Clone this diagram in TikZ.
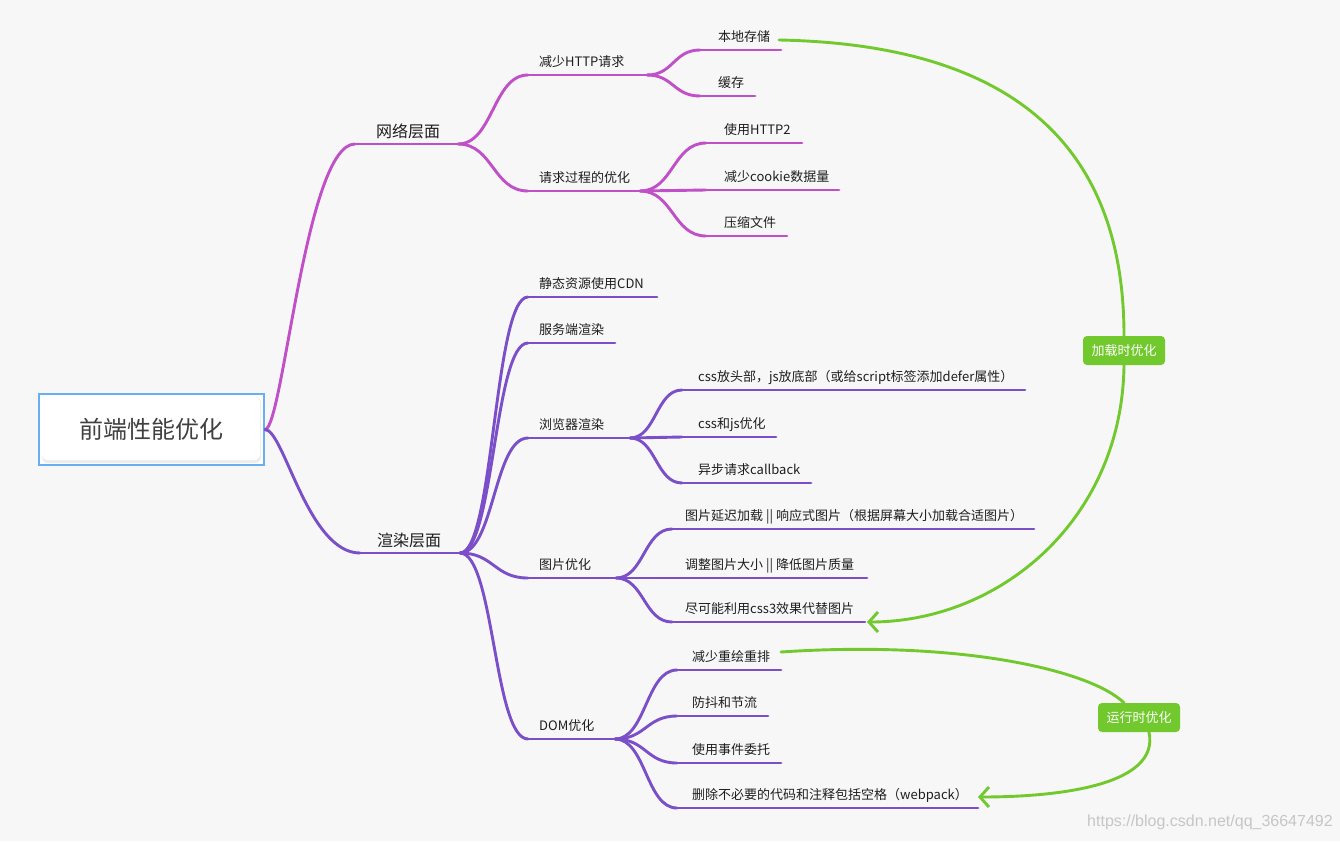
\documentclass[tikz,border=0pt]{standalone}
\usepackage{fontspec}
\setmainfont{Noto Sans CJK SC}
\newfontfamily\wmfont{Liberation Sans}
\usetikzlibrary{arrows.meta,calc}
\definecolor{bgc}{HTML}{F7F7F7}
\definecolor{netc}{HTML}{C04FC8}
\definecolor{renc}{HTML}{7A4FC8}
\definecolor{grn}{HTML}{72C92E}
\definecolor{rootb}{HTML}{6AAEF2}
\definecolor{txt}{HTML}{1E1E1E}
% #1 line style, #2 text style, #3 name, #4 xs, #5 xe, #6 y, #7 xt, #8 text
\newcommand{\mmtopic}[8]{%
  \coordinate (#3s) at (#4,#6);
  \coordinate (#3e) at (#5,#6);
  \draw[#1] (#3s) -- (#3e);
  \node[#2] (#3) at (#7,#6) {#8};}
\newcommand{\mmlink}[3]{%
  \draw[#1] let \p1=(#2e), \p2=(#3s) in
    (\p1) .. controls ({0.5*\x1+0.5*\x2},\y1) and ({0.5*\x1+0.5*\x2},\y2) .. (\p2);}
\newcommand{\mmrootlink}[3]{%
  \draw[#1] let \p1=(#2e), \p2=(#3s) in
    (\p1) .. controls ({0.8*\x1+0.2*\x2},\y1) and ({0.55*\x1+0.45*\x2},\y2) .. (\p2);}
\begin{document}
\begin{tikzpicture}[x=1pt,y=-1pt,
  netl/.style={draw=netc,line width=2.9pt,line cap=round},
  renl/.style={draw=renc,line width=2.9pt,line cap=round},
  ttext/.style={anchor=base west,inner sep=0pt,yshift=9pt,text=txt,font=\fontsize{13pt}{15pt}\selectfont},
  lvltext/.style={anchor=base west,inner sep=0pt,yshift=7pt,text=txt,font=\fontsize{16pt}{18pt}\selectfont},
  rootbox/.style={draw=rootb,line width=2pt,fill=white,minimum width=225pt,minimum height=71pt,inner sep=0pt,text=txt!85,font=\fontsize{24pt}{28pt}\selectfont},
  glabel/.style={fill=grn,rounded corners=4pt,text=white,minimum width=82pt,minimum height=29pt,inner sep=0pt,font=\fontsize{13pt}{15pt}\selectfont},
  glink/.style={draw=grn,line width=2.9pt,line cap=round},
  garrow/.style={glink,-{Straight Barb[length=9pt,width=20pt]}}
]
\fill[bgc] (0,0) rectangle (1340,841);
\useasboundingbox (0,0) rectangle (1340,841);

% root
\node[rootbox] (root) at (151.5,429.5) {};
\fill[gray!14,rounded corners=6pt] (42,397) rectangle (261,463);
\fill[white,rounded corners=6pt] (42,397) rectangle (260,460);
\node[inner sep=0pt,text=txt!85,font=\fontsize{24pt}{28pt}\selectfont] (roott) at (root.center) {前端性能优化};
\coordinate (roote) at (root.east);

% network branch
\mmtopic{netl}{lvltext}{net}{355}{458}{144}{376}{网络层面}
\mmtopic{netl}{ttext}{n1}{528}{647}{75}{539}{减少HTTP请求}
\mmtopic{netl}{ttext}{n2}{528}{640}{191}{539}{请求过程的优化}
\mmtopic{netl}{ttext}{n11}{700}{781}{50}{718}{本地存储}
\mmtopic{netl}{ttext}{n12}{700}{755}{96}{718}{缓存}
\mmtopic{netl}{ttext}{n21}{706}{802}{143}{724}{使用HTTP2}
\mmtopic{netl}{ttext}{n22}{706}{839}{190}{724}{减少cookie数据量}
\mmtopic{netl}{ttext}{n23}{706}{787}{236}{724}{压缩文件}
\mmrootlink{netl}{root}{net}
\mmlink{netl}{net}{n1}
\mmlink{netl}{net}{n2}
\mmlink{netl}{n1}{n11}
\mmlink{netl}{n1}{n12}
\mmlink{netl}{n2}{n21}
\mmlink{netl}{n2}{n22}
\mmlink{netl}{n2}{n23}

% render branch
\mmtopic{renl}{lvltext}{ren}{360}{460}{553}{377}{渲染层面}
\mmtopic{renl}{ttext}{r1}{528}{657}{297}{539}{静态资源使用CDN}
\mmtopic{renl}{ttext}{r2}{528}{615}{343}{539}{服务端渲染}
\mmtopic{renl}{ttext}{r3}{528}{630}{438}{539}{浏览器渲染}
\mmtopic{renl}{ttext}{r4}{528}{616}{578}{539}{图片优化}
\mmtopic{renl}{ttext}{r5}{528}{615}{739}{539}{DOM优化}
\mmtopic{renl}{ttext}{r31}{682}{1025}{390}{698}{css放头部，js放底部（或给script标签添加defer属性）}
\mmtopic{renl}{ttext}{r32}{682}{776}{437}{698}{css和js优化}
\mmtopic{renl}{ttext}{r33}{682}{811}{483}{698}{异步请求callback}
\mmtopic{renl}{ttext}{r41}{672}{1034}{529}{685}{图片延迟加载 || 响应式图片（根据屏幕大小加载合适图片）}
\mmtopic{renl}{ttext}{r42}{672}{867}{578}{685}{调整图片大小 || 降低图片质量}
\mmtopic{renl}{ttext}{r43}{672}{865}{622}{685}{尽可能利用css3效果代替图片}
\mmtopic{renl}{ttext}{r51}{677}{781}{670}{692}{减少重绘重排}
\mmtopic{renl}{ttext}{r52}{677}{768}{716}{692}{防抖和节流}
\mmtopic{renl}{ttext}{r53}{677}{781}{763}{692}{使用事件委托}
\mmtopic{renl}{ttext}{r54}{677}{978}{808}{692}{删除不必要的代码和注释包括空格（webpack）}
\mmrootlink{renl}{root}{ren}
\foreach \c in {r1,r2,r3,r4,r5}{\mmlink{renl}{ren}{\c}}
\foreach \c in {r31,r32,r33}{\mmlink{renl}{r3}{\c}}
\foreach \c in {r41,r42,r43}{\mmlink{renl}{r4}{\c}}
\foreach \c in {r51,r52,r53,r54}{\mmlink{renl}{r5}{\c}}

% green summaries
\node[glabel] (load) at (1124,350.5) {加载时优化};
\node[glabel] (run) at (1139,717.5) {运行时优化};
\coordinate (loadA) at (779,40);
\coordinate (loadB) at (867,622);
\coordinate (runA) at (781,652);
\coordinate (runB) at (978,797);
\draw[glink] (loadA) .. controls (1040,45) and (1124,170) .. (load.north);
\draw[garrow] (load.south) .. controls (1122,520) and (1000,622) .. (loadB);
\draw[glink] (runA) .. controls (960,640) and (1090,670) .. ([xshift=-15pt]run.north);
\draw[garrow] ([xshift=10pt]run.south) .. controls (1160,785) and (1060,797) .. (runB);

% watermark
\node[anchor=west,inner sep=0pt,text=gray!45,font=\wmfont\fontsize{16pt}{18pt}\selectfont] (wm) at (1087,822) {https://blog.csdn.net/qq\_36647492};
\end{tikzpicture}
\end{document}
